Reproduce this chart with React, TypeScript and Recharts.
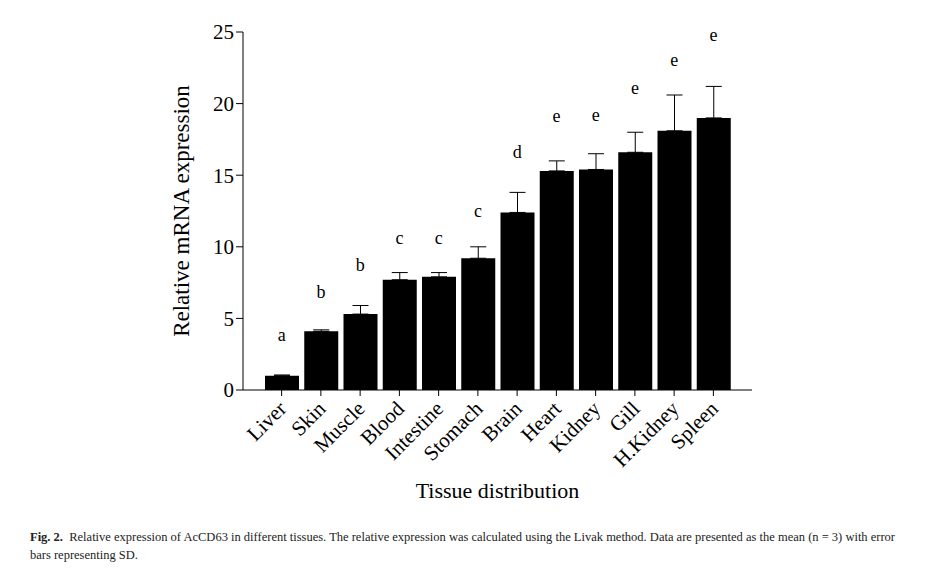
import React from 'react';
import { ComposedChart, Bar, XAxis, YAxis, ErrorBar, Line } from 'recharts';

const tissues = ['Liver','Skin','Muscle','Blood','Intestine','Stomach','Brain','Heart','Kidney','Gill','H.Kidney','Spleen'];
const means = [1.0,4.1,5.3,7.7,7.9,9.2,12.4,15.3,15.4,16.6,18.1,19.0];
const sds = [0.05,0.1,0.6,0.5,0.3,0.8,1.4,0.7,1.1,1.4,2.5,2.2];
const letters = ['a','b','b','c','c','c','d','e','e','e','e','e'];
const letterPos = [3.4,6.4,8.3,10.2,10.2,12.1,16.2,18.7,18.8,20.7,22.6,24.4];
const yTicks = [0,5,10,15,20,25];

const data = tissues.map((t,i)=>({name:t,mean:means[i],err:[0,sds[i]],lp:letterPos[i],letter:letters[i]}));
const font = '"Liberation Serif", "Times New Roman", serif';

const XTick = (p: any) => (
  <text x={p.x+6} y={p.y+12} transform={`rotate(-45 ${p.x+6} ${p.y+12})`} textAnchor="end" fontSize={21} fontFamily={font} fill="#000">{p.payload.value}</text>
);

const LetterDot = (p: any) => (
  <text key={p.index} x={p.cx} y={p.cy} textAnchor="middle" fontSize={18} fontFamily={font} fill="#000">{p.payload.letter}</text>
);

export default function App() {
  return (
    <div style={{position:'relative',width:927,height:560,fontFamily:font}}>
      <ComposedChart width={943} height={500} data={data} margin={{top:24,right:199,bottom:10,left:165}}>
        <XAxis dataKey="name" interval={0} tick={<XTick/>} tickLine={{stroke:'#000'}} axisLine={{stroke:'#000'}} padding={{left:19,right:19}} height={108} tickSize={6}
          label={{value:'Tissue distribution',position:'insideBottom',offset:0,fontSize:22,fontFamily:font,fill:'#000'}} />
        <YAxis domain={[0,25]} ticks={yTicks} width={70} tick={{fontSize:21,fontFamily:font,fill:'#000'}} tickLine={{stroke:'#000'}} axisLine={{stroke:'#000'}} tickSize={7}
          label={{value:'Relative mRNA expression',angle:-90,position:'insideLeft',offset:8,style:{textAnchor:'middle'},fontSize:23,fontFamily:font,fill:'#000'}} />
        <Bar dataKey="mean" fill="#000" barSize={34} isAnimationActive={false}>
          <ErrorBar dataKey="err" direction="y" width={8} stroke="#000" strokeWidth={1} />
        </Bar>
        <Line dataKey="lp" stroke="none" dot={<LetterDot/>} activeDot={false} isAnimationActive={false} />
      </ComposedChart>
      <div style={{position:'absolute',left:22,top:520,width:875,fontSize:12.5,lineHeight:'18px',color:'#222'}}>
        <b>Fig. 2.</b>&nbsp; Relative expression of AcCD63 in different tissues. The relative expression was calculated using the Livak method. Data are presented as the mean (n = 3) with error bars representing SD.
      </div>
    </div>
  );
}
